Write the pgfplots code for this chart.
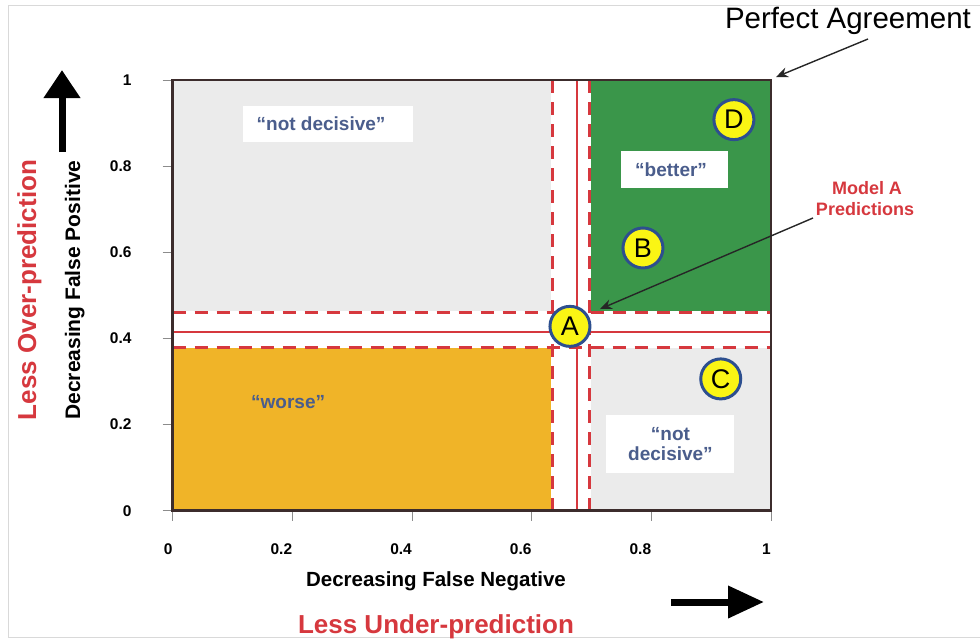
\documentclass[border=0pt]{standalone}
\usepackage{fontspec}
\setmainfont{Liberation Sans}
\usepackage{pgfplots}
\pgfplotsset{compat=1.18}
\usetikzlibrary{arrows.meta}

\definecolor{lgray}{RGB}{235,235,235}
\definecolor{cgreen}{RGB}{58,150,74}
\definecolor{corange}{RGB}{240,180,40}
\definecolor{cred}{RGB}{214,56,62}
\definecolor{frame}{RGB}{60,44,44}
\definecolor{qblue}{RGB}{74,93,140}
\definecolor{cyellow}{RGB}{250,245,20}
\definecolor{cblue}{RGB}{45,79,143}

\newcommand{\fs}[1]{\fontsize{#1}{#1}\selectfont}

\begin{document}
\begin{tikzpicture}[x=1pt,y=1pt]
\useasboundingbox (0,0) rectangle (980,-641);
\draw[black!15, line width=1pt] (980,-637) -- (8,-637) -- (8,-5) -- (980,-5);

\begin{axis}[
    at={(172.7pt,-510.7pt)}, anchor=south west,
    scale only axis, width=598.3pt, height=430.7pt,
    xmin=0, xmax=1, ymin=0, ymax=1,
    xtick={0,0.2,0.4,0.6,0.8,1},
    ytick={0,0.2,0.4,0.6,0.8,1},
    xtick pos=left, ytick pos=left,
    tick align=outside, major tick length=10pt,
    tick style={black!45, line width=0.8pt},
    axis line style={frame, line width=2.5pt},
    axis on top, clip=false,
    /pgf/number format/assume math mode=true,
    ticklabel style={font=\fs{15.5}\bfseries},
    xticklabel style={anchor=east, inner sep=0pt, yshift=-28pt},
    yticklabel style={anchor=east, inner sep=0pt, xshift=-31pt},
  ]

  % quadrants
  \addplot[draw=none, fill=lgray] coordinates {(0,0.463) (0.632,0.463) (0.632,1) (0,1)} -- cycle;
  \addplot[draw=none, fill=cgreen] coordinates {(0.699,0.463) (1,0.463) (1,1) (0.699,1)} -- cycle;
  \addplot[draw=none, fill=corange] coordinates {(0,0) (0.632,0) (0.632,0.377) (0,0.377)} -- cycle;
  \addplot[draw=none, fill=lgray] coordinates {(0.699,0) (1,0) (1,0.377) (0.699,0.377)} -- cycle;

  % model A lines with bounds
  \addplot[cred, line width=2pt] coordinates {(0.675,0) (0.675,1)};
  \addplot[cred, line width=2pt] coordinates {(0,0.416) (1,0.416)};
  \addplot[cred, line width=3pt, dash pattern=on 13pt off 9pt] coordinates {(0.634,0) (0.634,1)};
  \addplot[cred, line width=3pt, dash pattern=on 13pt off 9pt] coordinates {(0.697,0) (0.697,1)};
  \addplot[cred, line width=3pt, dash pattern=on 13pt off 9pt] coordinates {(0,0.461) (1,0.461)};
  \addplot[cred, line width=3pt, dash pattern=on 13pt off 9pt] coordinates {(0,0.379) (1,0.379)};

  % boxes
  \node[fill=white, minimum width=170pt, minimum height=36pt, inner sep=0pt] at (axis cs:0.259,0.899) {};
  \node[text=qblue, font=\fs{19}\bfseries] at (axis cs:0.248,0.899) {“not decisive”};
  \node[fill=white, minimum width=107pt, minimum height=37pt, inner sep=0pt] at (axis cs:0.839,0.792) {};
  \node[text=qblue, font=\fs{19}\bfseries] at (axis cs:0.833,0.792) {“better”};
  \node[text=qblue, font=\fs{19}\bfseries] at (axis cs:0.193,0.253) {“worse”};
  \node[fill=white, minimum width=128pt, minimum height=58pt, inner sep=0pt] at (axis cs:0.832,0.155) {};
  \node[text=qblue, font=\fs{19}\bfseries, align=center] at (axis cs:0.832,0.155) {“not\\[1pt]decisive”};

  % models
  \addplot[only marks, mark=*, mark size=20pt,
    mark options={fill=cyellow, draw=cblue, line width=3pt},
    point meta=explicit symbolic, nodes near coords,
    nodes near coords style={anchor=center, text=black, font=\fs{27}}]
    coordinates {
      (0.664,0.428) [A]
      (0.786,0.610) [B]
      (0.916,0.306) [C]
      (0.938,0.908) [D]
    };
\end{axis}

% annotations
\node[font=\fs{29.5}, anchor=base] at (848,-28) {Perfect Agreement};
\draw[black!85, line width=1.4pt, -{Stealth[length=12pt,width=10pt]}] (868,-39) -- (776,-77);
\node[text=cred, font=\fs{18}\bfseries, anchor=base] at (867,-194) {Model A};
\node[text=cred, font=\fs{18}\bfseries, anchor=base] at (865,-215) {Predictions};
\draw[black!85, line width=1.4pt, -{Stealth[length=12pt,width=10pt]}] (813,-218) -- (600,-309);

\node[font=\fs{20.5}\bfseries, anchor=base] at (436,-586) {Decreasing False Negative};
\node[text=cred, font=\fs{26}\bfseries, anchor=base] at (436,-633) {Less Under-prediction};
\node[font=\fs{21}\bfseries, anchor=base, rotate=90] at (80,-290) {Decreasing False Positive};
\node[text=cred, font=\fs{26}\bfseries, anchor=base, rotate=90] at (36,-290) {Less Over-prediction};

% direction arrows
\draw[line width=7pt, -{Triangle[length=28pt,width=35pt]}] (62,-152) -- (62,-70);
\draw[line width=7pt, -{Triangle[length=36pt,width=31pt]}] (671,-602) -- (764,-602);
\end{tikzpicture}
\end{document}
